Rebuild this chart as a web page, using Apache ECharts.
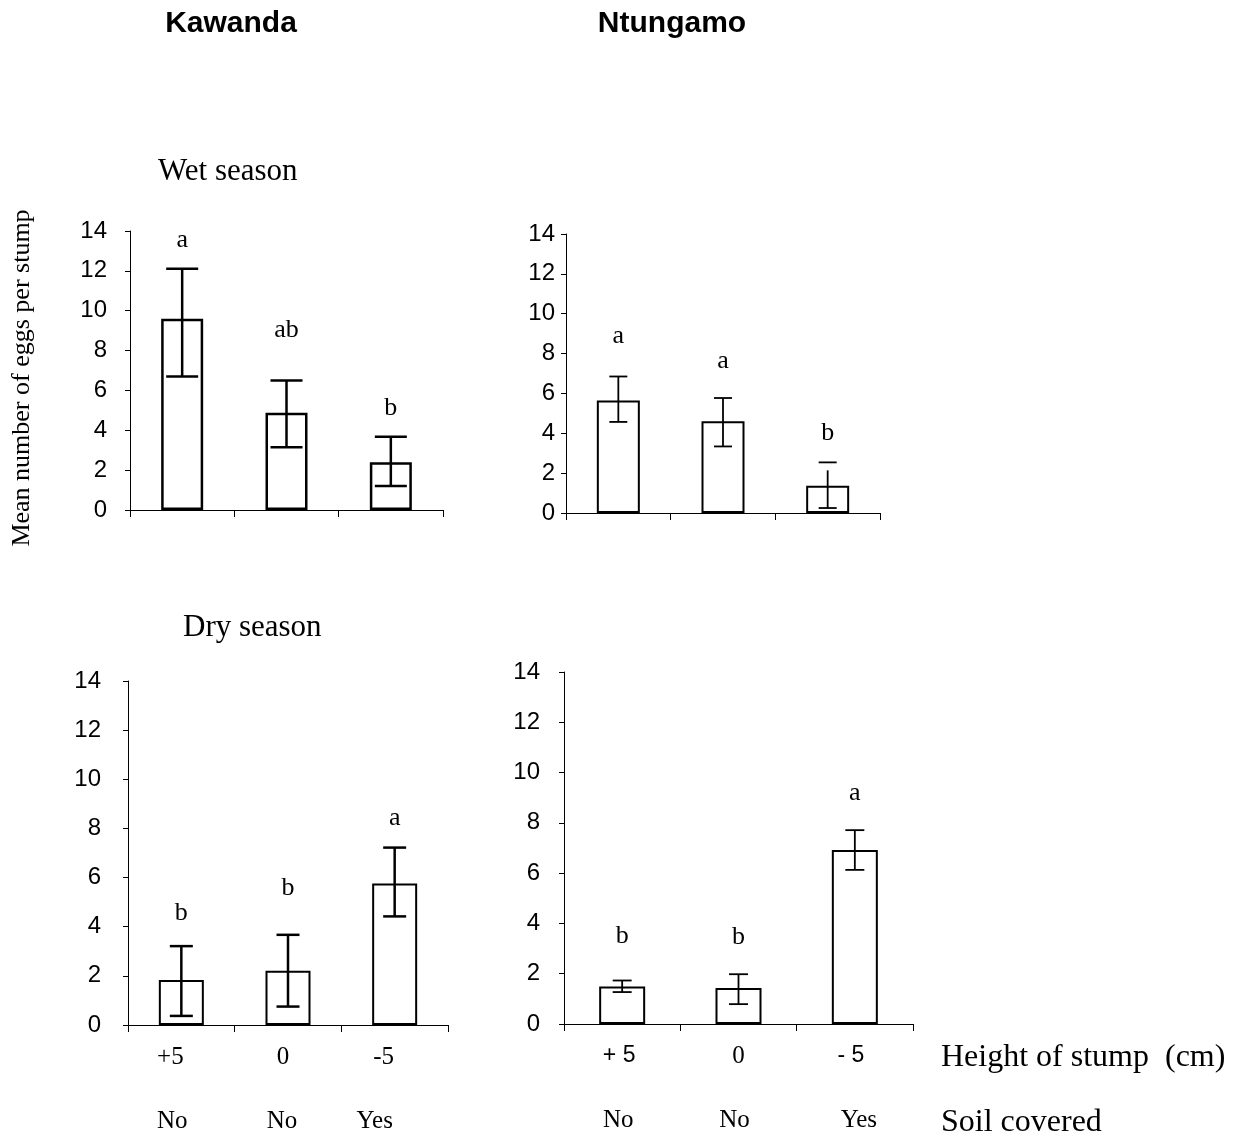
<!DOCTYPE html>
<html><head><meta charset="utf-8">
<script src="https://cdn.jsdelivr.net/npm/echarts@6/dist/echarts.min.js"></script>
<style>html,body{margin:0;padding:0;background:#fff}#c{width:1238px;height:1138px}</style>
</head><body><div id="c"></div><script>
// ---- data ----
const heightsKw = ['+5', '0', '-5'];
const heightsNt = ['+ 5', '0', '- 5'];
const soilCovered = ['No', 'No', 'Yes'];
const yTickMax = 14;
const yTickStep = 2;

const kwWetMean = [9.6, 4.88, 2.4];
const kwWetLow = [6.7, 3.15, 1.2];
const kwWetHigh = [12.1, 6.5, 3.68];
const kwWetLetters = ['a', 'ab', 'b'];
const kwWetLetterY = [13.55, 9.03, 5.12];

const ntWetMean = [5.65, 4.6, 1.37];
const ntWetLow = [4.57, 3.34, 0.25];
const ntWetHigh = [6.85, 5.77, 2.14];
const ntWetCapHigh = [6.85, 5.77, 2.54];
const ntWetLetters = ['a', 'a', 'b'];
const ntWetLetterY = [8.85, 7.6, 4.03];

const kwDryMean = [1.83, 2.21, 5.76];
const kwDryLow = [0.37, 0.75, 4.42];
const kwDryHigh = [3.21, 3.67, 7.22];
const kwDryLetters = ['b', 'b', 'a'];
const kwDryLetterY = [4.55, 5.57, 8.43];

const ntDryMean = [1.49, 1.43, 6.92];
const ntDryLow = [1.27, 0.79, 6.13];
const ntDryHigh = [1.73, 1.98, 7.71];
const ntDryLetters = ['b', 'b', 'a'];
const ntDryLetterY = [3.48, 3.47, 9.18];

// ---- layout ----
const SERIF = "'Liberation Serif','Times New Roman',serif";
const SANS = "'Liberation Sans',Arial,sans-serif";

const panels = [
  {grid:{left:130,top:231,width:313,height:279}, cats:heightsKw, mean:kwWetMean, low:kwWetLow, high:kwWetHigh, cap:kwWetHigh, letters:kwWetLetters, letterY:kwWetLetterY, barW:42, border:2.5, errLW:2.5, capW:32, labelMargin:23, bottom:false},
  {grid:{left:566,top:234,width:314,height:279}, cats:heightsNt, mean:ntWetMean, low:ntWetLow, high:ntWetHigh, cap:ntWetCapHigh, letters:ntWetLetters, letterY:ntWetLetterY, barW:43, border:2, errLW:1.8, capW:18, labelMargin:11, bottom:false},
  {grid:{left:128,top:681,width:320,height:344}, cats:heightsKw, mean:kwDryMean, low:kwDryLow, high:kwDryHigh, cap:kwDryHigh, letters:kwDryLetters, letterY:kwDryLetterY, barW:45, border:2, errLW:2.5, capW:23, labelMargin:27, bottom:true, kw:true,
   hShift:[11, 5, 11], sShift:[9, 6, 20]},
  {grid:{left:564,top:672,width:349,height:352}, cats:heightsNt, mean:ntDryMean, low:ntDryLow, high:ntDryHigh, cap:ntDryHigh, letters:ntDryLetters, letterY:ntDryLetterY, barW:46, border:2, errLW:1.8, capW:19, labelMargin:24, bottom:true, kw:false,
   hShift:[3, 0, 4], sShift:[4, 4, -4]}
];

function shiftPad(dx) { return dx >= 0 ? [0, 2 * dx, 0, 0] : [0, 0, 0, -2 * dx]; }

const grids = [], xAxes = [], yAxes = [], series = [];
panels.forEach((p, gi) => {
  grids.push(Object.assign({containLabel:false}, p.grid));
  const xi = xAxes.length;
  const hRich = {}, sRich = {};
  [0, 1, 2].forEach(i => {
    const serifH = p.kw || i === 1;
    hRich['h' + i] = {fontFamily: serifH ? SERIF : SANS, fontSize: serifH ? 25 : 23, color:'#000',
      padding: p.hShift ? shiftPad(p.hShift[i]) : 0};
    sRich['s' + i] = {fontFamily: SERIF, fontSize: 25, color:'#000',
      padding: p.sShift ? shiftPad(p.sShift[i]) : 0};
  });
  xAxes.push({
    type:'category', gridIndex:gi, data:p.cats, boundaryGap:true,
    axisLine:{show:true, onZero:false, lineStyle:{color:'#000', width:1}},
    axisTick:{show:true, inside:false, length:7, alignWithLabel:false, lineStyle:{color:'#000'}},
    axisLabel:{show:p.bottom, margin:20, formatter:(v, i) => `{h${i}|${v}}`, rich:hRich},
    splitLine:{show:false}
  });
  if (p.bottom) {
    xAxes.push({
      type:'category', gridIndex:gi, data:soilCovered, position:'bottom', offset:64, boundaryGap:true,
      axisLine:{show:false}, axisTick:{show:false},
      axisLabel:{show:true, margin:20, formatter:(v, i) => `{s${i}|${v}}`, rich:sRich},
      splitLine:{show:false}
    });
  }
  yAxes.push({
    type:'value', gridIndex:gi, min:0, max:yTickMax, interval:yTickStep,
    axisLine:{show:true, lineStyle:{color:'#000', width:1}},
    axisTick:{show:true, length:5, lineStyle:{color:'#000'}},
    axisLabel:{show:true, margin:p.labelMargin, fontFamily:SANS, fontSize:24, color:'#000'},
    splitLine:{show:false}
  });
  series.push({
    type:'bar', xAxisIndex:xi, yAxisIndex:gi, data:p.mean, barWidth:p.barW,
    itemStyle:{color:'#fff', borderColor:'#000', borderWidth:p.border},
    silent:true, animation:false, z:2
  });
  const capW = p.capW, lw = p.errLW;
  series.push({
    type:'custom', xAxisIndex:xi, yAxisIndex:gi, animation:false, silent:true, z:5,
    data:p.mean.map((m, i) => [i, p.low[i], p.high[i], p.cap[i]]),
    renderItem:(params, api) => {
      const i = api.value(0);
      const lo = api.coord([i, api.value(1)]);
      const hi = api.coord([i, api.value(2)]);
      const ch = api.coord([i, api.value(3)]);
      const x = lo[0], h = capW / 2;
      const st = {stroke:'#000', lineWidth:lw, fill:null};
      return {type:'group', children:[
        {type:'line', shape:{x1:x, y1:lo[1], x2:x, y2:hi[1]}, style:st},
        {type:'line', shape:{x1:x-h, y1:lo[1], x2:x+h, y2:lo[1]}, style:st},
        {type:'line', shape:{x1:x-h, y1:ch[1], x2:x+h, y2:ch[1]}, style:st}
      ]};
    }
  });
  series.push({
    type:'custom', xAxisIndex:xi, yAxisIndex:gi, animation:false, silent:true, z:6,
    data:p.letters.map((l, i) => [i, p.letterY[i]]),
    renderItem:(params, api) => {
      const c = api.coord([api.value(0), api.value(1)]);
      return {type:'text', style:{text:p.letters[params.dataIndex], x:c[0], y:c[1],
        font:'26px '+SERIF, fill:'#000', textAlign:'center', textVerticalAlign:'middle', align:'center', verticalAlign:'middle'}};
    }
  });
});

function txt(text, x, y, font, align, rot) {
  return {type:'text', x:x, y:y, rotation:rot || 0, silent:true,
    style:{text:text, font:font, fill:'#000', textAlign:align || 'left', textVerticalAlign:'middle', align:align || 'left', verticalAlign:'middle'}};
}

const option = {
  backgroundColor:'#fff',
  animation:false,
  grid:grids, xAxis:xAxes, yAxis:yAxes, series:series,
  graphic:[
    txt('Kawanda', 231, 24, 'bold 30px '+SANS, 'center'),
    txt('Ntungamo', 672, 24, 'bold 30px '+SANS, 'center'),
    txt('Wet season', 158, 172, '31px '+SERIF, 'left'),
    txt('Dry season', 183, 628, '31px '+SERIF, 'left'),
    txt('Mean number of eggs per stump', 22, 378, '26px '+SERIF, 'center', Math.PI / 2),
    txt('Height of stump  (cm)', 941, 1058, '32px '+SERIF, 'left'),
    txt('Soil covered', 941, 1123, '32px '+SERIF, 'left')
  ]
};
const chart = echarts.init(document.getElementById('c'), null, {renderer:'canvas'});
chart.setOption(option);
</script></body></html>
